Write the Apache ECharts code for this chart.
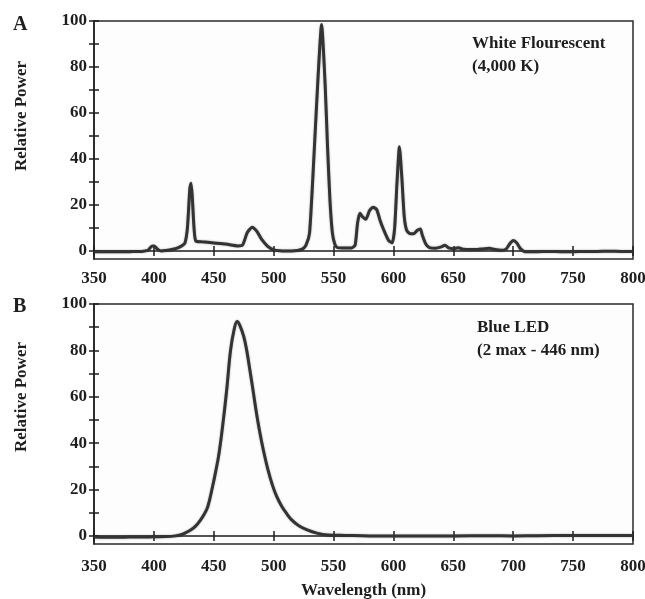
<!DOCTYPE html>
<html>
<head>
<meta charset="utf-8">
<script src="https://cdn.jsdelivr.net/npm/echarts@6/dist/echarts.min.js"></script>
<style>
html,body{margin:0;padding:0;background:#fff;}
#c{width:645px;height:599px;}
</style>
</head>
<body>
<div id="c"></div>
<script>
// Panel A: White fluorescent (4,000 K)
const wlA = [350,360,370,380,390,395,398,400,403,406,410,415,420,424,426,428,430,431,432,433.5,435,440,450,460,470,474,478,482,486,490,495,500,505,510,515,520,524,527,530,534,537,540,543,545,547,549,551,553,558,565,568,570,572,574,577,580,583,586,589,592,596,599,601,603,605,607,609,611,614,617,620,622.5,624,627,630,635,640,643,646,650,654,658,665,670,675,680,684,690,694,697,700,703,706,710,720,730,740,750,760,770,780,790,800];
const powA = [-0.3,-0.4,-0.4,-0.3,-0.2,0.3,2,2.2,0.8,0,0.2,0.6,1.3,2.5,3.5,10,27,29.4,24,10,4.3,4,3.5,3,2.2,2.5,8,10.3,8.5,5,2,0.5,0.1,0,0,0.2,0.8,2.5,8,45,75,98.5,72,45,22,8,3,1.5,1.3,1.3,2.5,12,16.4,15,13.8,17.5,19,18,13,9,4.5,3.5,10,30,45.3,32,15,9,7.5,7.5,9,9.6,7,3,1.5,1.2,1.8,2.5,1.3,1,1.4,0.8,0.6,0.6,0.9,1.2,0.7,0.3,0.8,3,4.5,3.5,1,-0.3,-0.3,-0.2,-0.3,-0.3,-0.2,-0.2,-0.1,-0.2,-0.2];

// Panel B: Blue LED
const wlB = [350,360,370,380,390,400,410,418,422,426,431,435,439,442,445,449,451.5,454.4,458,461,464,467,469.5,472,475,477.5,480,483,485.8,488.5,491.4,495,498.9,502.5,506.7,511,515,521,528,536,545,560,580,600,620,650,680,700,720,750,780,800];
const powB = [-0.5,-0.6,-0.6,-0.5,-0.5,-0.4,-0.3,0,0.4,1.2,2.6,4.3,6.9,9.3,12.6,21.3,27.5,35.6,50,64,80,89,92.4,90.5,86,80,72,62,52.5,44.5,37,29,22,17,12.8,9.5,6.9,4.4,2.6,1.2,0.4,0.2,0,0,-0.1,0,0.1,0,0.1,0.2,0.2,0.2];

const xTicks = [350,400,450,500,550,600,650,700,750,800];
const yTickMarks = [0,10,20,30,40,50,60,70,80,90,100];
const yTickLabels = [0,20,40,60,80,100];

const labelsA = ['White Flourescent', '(4,000 K)'];
const labelsB = ['Blue LED', '(2 max - 446 nm)'];
const yTitle = 'Relative Power';
const xTitle = 'Wavelength (nm)';

const FONT = "'Liberation Serif', 'DejaVu Serif', serif";
const INK = '#1e1e1e';

function pairs(xs, ys){ return xs.map((x,i)=>[x, ys[i]]); }

const grids = [
  {left:94, right:12, top:21, height:238, show:true, outerBoundsMode:'none', containLabel:false, backgroundColor:'#fdfdfd', borderColor:'#2a2a2a', borderWidth:1.5},
  {left:94, right:12, top:304, height:240, show:true, outerBoundsMode:'none', containLabel:false, backgroundColor:'#fdfdfd', borderColor:'#2a2a2a', borderWidth:1.5}
];

function xAxes(gi, labelMargin, withName){
  const main = {
    type:'value', gridIndex:gi, min:350, max:800, interval:50, position:'bottom',
    axisLine:{show:true, lineStyle:{color:INK, width:1.5}},
    axisTick:{show:true, inside:false, length:5, lineStyle:{color:INK, width:1.5}},
    axisLabel:{show:true, margin:labelMargin, fontFamily:FONT, fontWeight:'bold', fontSize:17, color:INK,
      customValues: xTicks},
    splitLine:{show:false}
  };
  if (withName){
    main.name = xTitle;
    main.nameLocation = 'middle';
    main.nameGap = 38;
    main.nameTextStyle = {fontFamily:FONT, fontWeight:'bold', fontSize:17, color:INK};
  }
  const inner = {
    type:'value', gridIndex:gi, min:350, max:800, interval:50, position:'bottom',
    axisLine:{show:false},
    axisTick:{show:true, inside:true, length:5, lineStyle:{color:INK, width:1.5}},
    axisLabel:{show:false}, splitLine:{show:false}
  };
  return [main, inner];
}
function yAxes(gi){
  const main = {
    type:'value', gridIndex:gi, min:-3.5, max:100, position:'left',
    axisLine:{show:true, lineStyle:{color:INK, width:1.5}},
    axisTick:{show:true, inside:false, length:5, lineStyle:{color:INK, width:1.5}, customValues: yTickMarks},
    axisLabel:{show:true, margin:7, fontFamily:FONT, fontWeight:'bold', fontSize:17, color:INK, customValues: yTickLabels},
    splitLine:{show:false}
  };
  const inner = {
    type:'value', gridIndex:gi, min:-3.5, max:100, position:'left',
    axisLine:{show:false},
    axisTick:{show:true, inside:true, length:5, lineStyle:{color:INK, width:1.5}, customValues: yTickMarks},
    axisLabel:{show:false}, splitLine:{show:false}
  };
  return [main, inner];
}

const xAxis = [...xAxes(0, 11, false), ...xAxes(1, 14, true)];
const yAxis = [...yAxes(0), ...yAxes(1)];

const lineStyle = {color:'#333333', width:3, shadowBlur:2, shadowColor:'rgba(0,0,0,0.35)'};

const series = [
  {type:'line', xAxisIndex:0, yAxisIndex:0, data:pairs(wlA, powA), showSymbol:false, smooth:0.2, lineStyle, silent:true},
  {type:'line', xAxisIndex:2, yAxisIndex:2, data:pairs(wlB, powB), showSymbol:false, smooth:0.4, lineStyle, silent:true}
];

function txt(left, top, text, size){
  return {type:'text', left, top, silent:true,
    style:{text, fontFamily:FONT, fontWeight:'bold', fontSize:size, fill:INK}};
}

const graphic = [
  txt(13, 15, 'A', 20),
  txt(13, 297, 'B', 20),
  {type:'text', silent:true, x:22, y:116, rotation:Math.PI/2,
    style:{text:yTitle, fontFamily:FONT, fontWeight:'bold', fontSize:17, fill:INK, align:'center', verticalAlign:'middle'}},
  {type:'text', silent:true, x:22, y:397, rotation:Math.PI/2,
    style:{text:yTitle, fontFamily:FONT, fontWeight:'bold', fontSize:17, fill:INK, align:'center', verticalAlign:'middle'}},
  {type:'text', silent:true, left:472, top:32,
    style:{text:labelsA.join('\n'), lineHeight:23, fontFamily:FONT, fontWeight:'bold', fontSize:17, fill:INK}},
  {type:'text', silent:true, left:477, top:316,
    style:{text:labelsB.join('\n'), lineHeight:23, fontFamily:FONT, fontWeight:'bold', fontSize:17, fill:INK}}
];

const chart = echarts.init(document.getElementById('c'), null, {renderer:'canvas'});
chart.setOption({
  animation:false,
  backgroundColor:'#ffffff',
  grid:grids,
  xAxis, yAxis, series, graphic
});
</script>
</body>
</html>
